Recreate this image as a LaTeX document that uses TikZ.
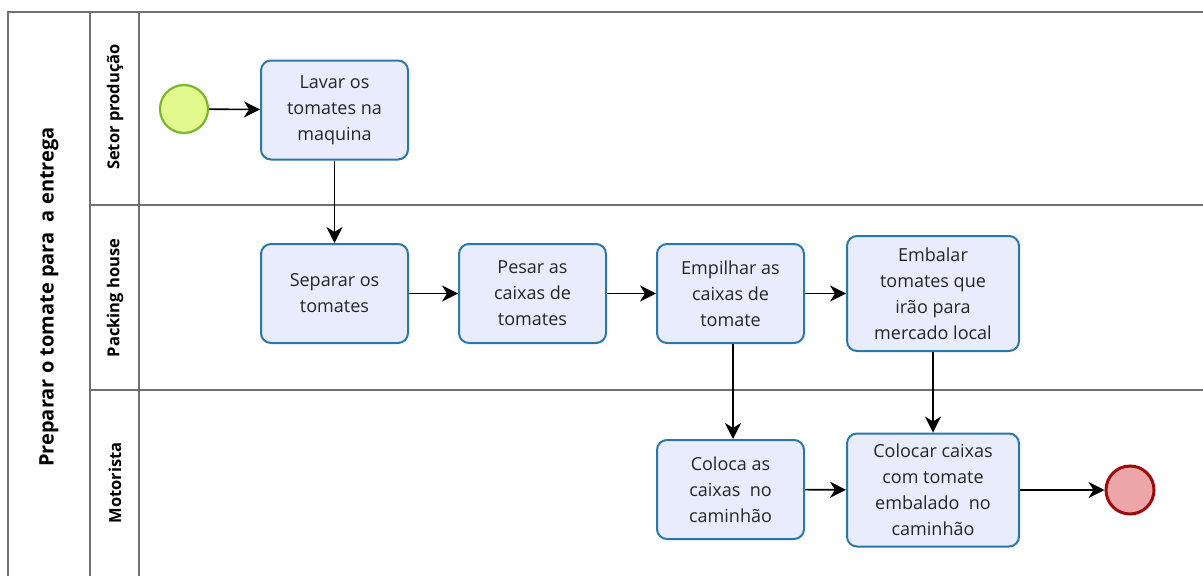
\documentclass[tikz,border=0pt]{standalone}
\usepackage{fontspec}
\setmainfont{Open Sans}
\usetikzlibrary{arrows.meta}
\definecolor{taskfill}{HTML}{E8ECFC}
\definecolor{taskline}{HTML}{2A78A8}
\definecolor{startfill}{HTML}{E2FA8E}
\definecolor{startline}{HTML}{78B82A}
\definecolor{endfill}{HTML}{ECA6A8}
\definecolor{endline}{HTML}{A00A0A}
\definecolor{poolline}{HTML}{707070}
\tikzset{
  task/.style={draw=taskline, fill=taskfill, line width=2pt, rounded corners=10pt,
    align=center, font=\fontsize{18}{26}\selectfont, text=black!85,
    inner sep=0pt, minimum width=147pt, minimum height=99pt},
  bigtask/.style={task, minimum width=172pt, minimum height=113pt},
  startev/.style={circle, draw=startline, fill=startfill, line width=2.2pt, minimum size=48pt, inner sep=0pt},
  endev/.style={circle, draw=endline, fill=endfill, line width=3pt, minimum size=48pt, inner sep=0pt},
  flow/.style={-{Stealth[length=16pt,width=16pt,inset=5pt]}, line width=1.6pt, black},
  pool/.style={draw=poolline, line width=1.3pt},
  lanelabel/.style={rotate=90, font=\bfseries\fontsize{16.5}{20}\selectfont},
  poollabel/.style={rotate=90, font=\bfseries\fontsize{20}{24}\selectfont}
}
\begin{document}
\begin{tikzpicture}[x=1pt,y=-1pt]
\useasboundingbox (0,0) rectangle (1203,576);
\begin{scope}
\clip (0,0) rectangle (1203,576);
% pool frame and lanes
\draw[pool] (8,590) -- (8,12) -- (1215,12);
\draw[pool] (90,12) -- (90,590);
\draw[pool] (139,12) -- (139,590);
\draw[pool] (90,205) -- (1215,205);
\draw[pool] (90,390) -- (1215,390);
\end{scope}
\node[poollabel] (pooltitle) at (49,297) {Preparar o tomate para \ a entrega};
\node[lanelabel] (lane1) at (115,107) {Setor produção};
\node[lanelabel] (lane2) at (115,298) {Packing house};
\node[lanelabel] (lane3) at (115,483) {Motorista};

% events and tasks
\node[startev] (start) at (184,109) {};
\node[task] (lavar) at (334.5,110) {Lavar os\\tomates na\\maquina};
\node[task] (separar) at (334.5,293.5) {Separar os\\tomates};
\node[task] (pesar) at (532.5,293.5) {Pesar as\\caixas de\\tomates};
\node[task] (empilhar) at (730.5,293.5) {Empilhar as\\caixas de\\tomate};
\node[bigtask, minimum height=115pt] (embalar) at (933,293.5) {Embalar\\tomates que\\irão para\\mercado local};
\node[task] (coloca) at (730.5,489.5) {Coloca as\\caixas \ no\\caminhão};
\node[bigtask] (colocar) at (933,490) {Colocar caixas\\com tomate\\embalado \ no\\caminhão};
\node[endev] (end) at (1130,490) {};

% sequence flows
\draw[flow] (start) -- (lavar);
\draw[flow] (lavar) -- (separar);
\draw[flow] (separar) -- (pesar);
\draw[flow] (pesar) -- (empilhar);
\draw[flow] (empilhar) -- (embalar);
\draw[flow] (empilhar.south -| 733,0) -- (coloca.north -| 733,0);
\draw[flow] (embalar) -- (colocar);
\draw[flow] (coloca) -- (colocar);
\draw[flow] (colocar) -- (end);
\end{tikzpicture}
\end{document}
